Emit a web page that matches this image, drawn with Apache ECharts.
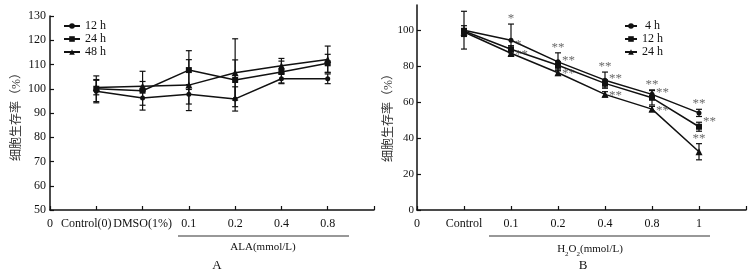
<!DOCTYPE html>
<html>
<head>
<meta charset="utf-8">
<script src="https://cdn.jsdelivr.net/npm/echarts@6/dist/echarts.min.js"></script>
<style>
  html, body { margin: 0; background: #fff; }
  #chart { width: 750px; height: 274px; }
</style>
</head>
<body>
<div id="chart"></div>
<script>
// panel A: ALA treatment
const labelsA = ["0", "Control(0)", "DMSO(1%)", "0.1", "0.2", "0.4", "0.8", ""]
const posA = [1, 2, 3, 4, 5, 6]
const ala12 = [99, 96.2, 97.7, 95.8, 104.1, 104.1]
const ala24 = [100, 99.2, 107.7, 103.6, 106.9, 110.5]
const ala48 = [100.5, 101, 101.5, 106.6, 109.5, 112.1]
const alaErr12 = [4.8, 3, 4, 5, 2, 2]
const alaErr24 = [5.3, 8, 8, 8.3, 4.5, 3.7]
const alaErr48 = [3, 2, 10.5, 14, 3, 5.5]

// panel B: H2O2 treatment
const labelsB = ["0", "Control", "0.1", "0.2", "0.4", "0.8", "1", ""]
const posB = [1, 2, 3, 4, 5, 6]
const h2o4 = [100, 94.4, 82.4, 72.2, 64.3, 54]
const h2o12 = [99.5, 89.4, 80.5, 70.4, 62.4, 46.3]
const h2o24 = [99, 87.2, 76.3, 64.3, 56.1, 32.4]
const h2oErr4 = [10.5, 9, 5, 4.5, 2.5, 2]
const h2oErr12 = [3, 2, 2, 2, 4, 2.5]
const h2oErr24 = [2, 1.5, 1.5, 1.5, 1.5, 4.5]
const stars4 = ["", "*", "**", "**", "**", "**"]
const stars12 = ["", "*", "**", "**", "**", "**"]
const stars24 = ["", "**", "**", "**", "**", "**"]

const serif = "'Liberation Serif', 'DejaVu Serif', 'Noto Sans CJK SC', serif"
const ink = "#111"

const chart = echarts.init(document.getElementById("chart"))

function pts(pos, vals) {
  return pos.map((x, i) => [x, vals[i]])
}
function bars(pos, vals, errs) {
  return pos.map((x, i) => [x, vals[i] - errs[i], vals[i] + errs[i]])
}

function renderErr(params, api) {
  const x = api.value(0)
  const top = api.coord([x, api.value(2)])
  const bot = api.coord([x, api.value(1)])
  const w = 3
  const st = { stroke: ink, lineWidth: 1.2 }
  return {
    type: "group",
    children: [
      { type: "line", shape: { x1: top[0], y1: top[1], x2: bot[0], y2: bot[1] }, style: st },
      { type: "line", shape: { x1: top[0] - w, y1: top[1], x2: top[0] + w, y2: top[1] }, style: st },
      { type: "line", shape: { x1: bot[0] - w, y1: bot[1], x2: bot[0] + w, y2: bot[1] }, style: st }
    ]
  }
}

function lineSeries(name, idx, data, symbol, size) {
  return {
    name: name,
    type: "line",
    xAxisIndex: idx,
    yAxisIndex: idx,
    data: data,
    symbol: symbol,
    symbolSize: size,
    lineStyle: { color: ink, width: 1.5 },
    itemStyle: { color: ink },
    z: 3
  }
}

function errSeries(idx, data) {
  return {
    type: "custom",
    xAxisIndex: idx,
    yAxisIndex: idx,
    renderItem: renderErr,
    encode: { x: 0, y: [1, 2] },
    data: data,
    silent: true,
    z: 2
  }
}

function starSeries(pos, vals, errs, stars, mode) {
  const data = pos.map((x, i) => {
    if (!stars[i]) return null
    const above = mode === "top" || (mode === "rightLastTop" && i === pos.length - 1)
    return {
      value: [x, above ? vals[i] + errs[i] : vals[i]],
      name: stars[i],
      label: above
        ? { position: "top", distance: -1 }
        : { position: "right", distance: 4, offset: mode === "rightUp" ? [0, -5] : [0, 1] }
    }
  }).filter(d => d)
  return {
    type: "scatter",
    xAxisIndex: 1,
    yAxisIndex: 1,
    symbolSize: 0,
    silent: true,
    data: data,
    label: {
      show: true,
      formatter: p => p.name,
      fontFamily: serif,
      fontSize: 13,
      color: "#444"
    },
    z: 4
  }
}

function xAxis(idx, labels) {
  return {
    type: "value",
    gridIndex: idx,
    min: 0,
    max: 7,
    interval: 1,
    axisLine: { lineStyle: { color: ink, width: 1.5 } },
    axisTick: { inside: true, length: 4, lineStyle: { color: ink, width: 1.2 } },
    axisLabel: {
      margin: 8,
      fontFamily: serif,
      fontSize: 12,
      color: ink,
      // the long first label sits a little left of its tick
      formatter: v => {
        const t = labels[v] !== undefined ? labels[v] : ""
        return idx === 0 && v === 1 ? "{l|" + t + "}" : t
      },
      rich: { l: { fontFamily: serif, fontSize: 12, color: ink, padding: [0, 20, 0, 0] } }
    },
    splitLine: { show: false }
  }
}

const legendText = { fontFamily: serif, fontSize: 12, color: ink }

const option = {
  animation: false,
  backgroundColor: "#fff",
  grid: [
    { left: 50, top: 16, width: 324, height: 194 },
    { left: 417, top: 5, width: 329, height: 205 }
  ],
  xAxis: [xAxis(0, labelsA), xAxis(1, labelsB)],
  yAxis: [
    {
      type: "value",
      gridIndex: 0,
      min: 50,
      max: 130,
      interval: 10,
      axisLine: { show: true, lineStyle: { color: ink, width: 1.5 } },
      axisTick: { show: true, inside: true, length: 4, lineStyle: { color: ink, width: 1.2 } },
      axisLabel: { margin: 4, fontFamily: serif, fontSize: 12, color: ink },
      splitLine: { show: false }
    },
    {
      type: "value",
      gridIndex: 1,
      min: 0,
      max: 114,
      interval: 20,
      axisLine: { show: true, lineStyle: { color: ink, width: 1.5 } },
      axisTick: { show: true, inside: true, length: 4, lineStyle: { color: ink, width: 1.2 },
        customValues: [0, 20, 40, 60, 80, 100] },
      axisLabel: { margin: 3, fontFamily: serif, fontSize: 11, color: ink,
        customValues: [0, 20, 40, 60, 80, 100] },
      splitLine: { show: false }
    }
  ],
  legend: [
    {
      data: ["12 h", "24 h", "48 h"],
      orient: "vertical",
      left: 58,
      top: 15,
      itemWidth: 16,
      itemHeight: 7,
      itemGap: 1,
      textStyle: legendText
    },
    {
      data: [" 4 h", "12 h ", "24 h "],
      orient: "vertical",
      left: 619,
      top: 15,
      itemWidth: 12,
      itemHeight: 7,
      itemGap: 1,
      textStyle: legendText
    }
  ],
  graphic: [
    { type: "text", x: 17, y: 114, rotation: Math.PI / 2,
      style: { text: "细胞生存率（%）", fontFamily: serif, fontSize: 12, fill: "#333", align: "center", verticalAlign: "middle" } },
    { type: "text", x: 389, y: 115, rotation: Math.PI / 2,
      style: { text: "细胞生存率（%）", fontFamily: serif, fontSize: 12, fill: "#333", align: "center", verticalAlign: "middle" } },
    { type: "line", shape: { x1: 178, y1: 236, x2: 349, y2: 236 }, style: { stroke: "#333", lineWidth: 1.2 } },
    { type: "text", x: 263, y: 247,
      style: { text: "ALA(mmol/L)", fontFamily: serif, fontSize: 11, fill: ink, align: "center", verticalAlign: "middle" } },
    { type: "text", x: 217, y: 266,
      style: { text: "A", fontFamily: serif, fontSize: 13, fill: ink, align: "center", verticalAlign: "middle" } },
    { type: "line", shape: { x1: 489, y1: 236, x2: 710, y2: 236 }, style: { stroke: "#333", lineWidth: 1.2 } },
    { type: "text", x: 590, y: 248,
      style: {
        text: "{a|H}{s|2}{a|O}{s|2}{a|(mmol/L)}",
        align: "center", verticalAlign: "middle",
        rich: {
          a: { fontFamily: serif, fontSize: 11, fill: ink, lineHeight: 14, verticalAlign: "bottom" },
          s: { fontFamily: serif, fontSize: 7, fill: ink, lineHeight: 14, verticalAlign: "bottom", padding: [0, 0, -3, 0] }
        }
      } },
    { type: "text", x: 583, y: 266,
      style: { text: "B", fontFamily: serif, fontSize: 13, fill: ink, align: "center", verticalAlign: "middle" } }
  ],
  series: [
    errSeries(0, bars(posA, ala12, alaErr12)),
    errSeries(0, bars(posA, ala24, alaErr24)),
    errSeries(0, bars(posA, ala48, alaErr48)),
    lineSeries("12 h", 0, pts(posA, ala12), "circle", 5),
    lineSeries("24 h", 0, pts(posA, ala24), "rect", 6),
    lineSeries("48 h", 0, pts(posA, ala48), "triangle", 7),

    errSeries(1, bars(posB, h2o4, h2oErr4)),
    errSeries(1, bars(posB, h2o12, h2oErr12)),
    errSeries(1, bars(posB, h2o24, h2oErr24)),
    lineSeries(" 4 h", 1, pts(posB, h2o4), "circle", 5),
    lineSeries("12 h ", 1, pts(posB, h2o12), "rect", 6),
    lineSeries("24 h ", 1, pts(posB, h2o24), "triangle", 7),
    starSeries(posB, h2o4, h2oErr4, stars4, "top"),
    starSeries(posB, h2o12, h2oErr12, stars12, "rightUp"),
    starSeries(posB, h2o24, h2oErr24, stars24, "rightLastTop")
  ]
}

chart.setOption(option)
</script>
</body>
</html>
